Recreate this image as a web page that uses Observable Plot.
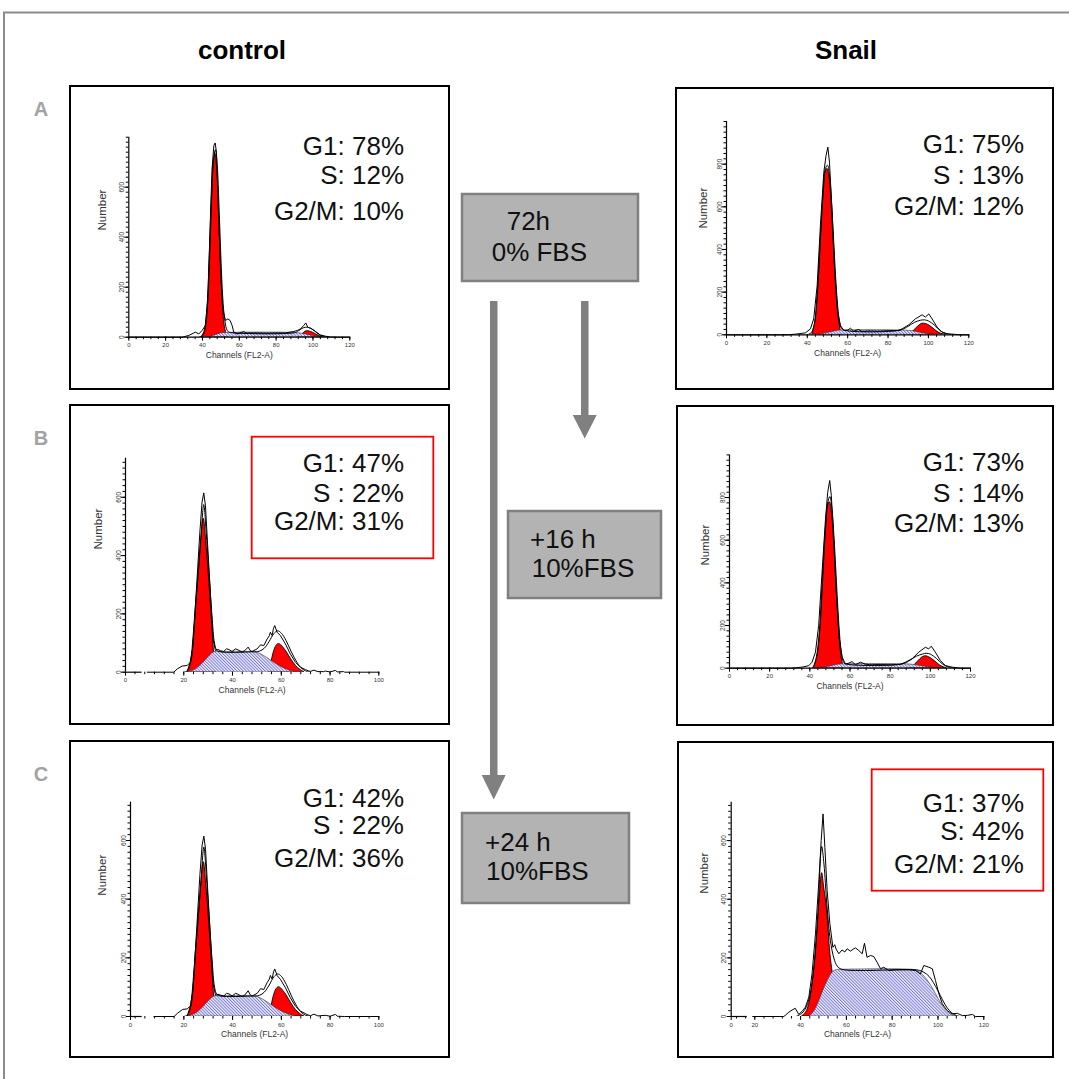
<!DOCTYPE html>
<html><head><meta charset="utf-8">
<script src="https://cdn.jsdelivr.net/npm/d3@7"></script>
<script src="https://cdn.jsdelivr.net/npm/@observablehq/plot@0.6"></script>
<style>
html,body{margin:0;padding:0;background:#fff;overflow:hidden;}
#page{position:relative;width:1069px;height:1079px;overflow:hidden;font-family:"Liberation Sans",Arial,sans-serif;}
#page svg.plotsvg{position:absolute;overflow:visible;}
</style></head><body><div id="page"></div>
<script>
// ---------------- DATA ----------------
const columns = ["control", "Snail"];
const rows = ["A", "B", "C"];
const treatments = [["72h", "0% FBS"], ["+16 h", "10%FBS"], ["+24 h", "10%FBS"]];
const xLabel = "Channels (FL2-A)";
const yLabel = "Number";

const ctrlA_stats = ["G1: 78%", "S: 12%", "G2/M: 10%"];
const snailA_stats = ["G1: 75%", "S : 13%", "G2/M: 12%"];
const ctrlB_stats = ["G1: 47%", "S : 22%", "G2/M: 31%"];
const snailB_stats = ["G1: 73%", "S : 14%", "G2/M: 13%"];
const ctrlC_stats = ["G1: 42%", "S : 22%", "G2/M: 36%"];
const snailC_stats = ["G1: 37%", "S: 42%", "G2/M: 21%"];

const yTicks800 = [0, 200, 400, 600];
const yTicks1000 = [0, 200, 400, 600, 800];
const xTicks120 = [0, 20, 40, 60, 80, 100, 120];
const xTicks100 = [20, 40, 60, 80, 100];
const xTicks120b = [20, 40, 60, 80, 100, 120];

// [channel, count]
const ctrlA_raw = [[0,0],[29,0],[32.6,7],[35.3,17],[36.2,20],[38,13],[39.8,27],[41.6,47],[42.9,153],[44.3,473],[45.2,673],[46.2,767],[46.9,777],[47.6,740],[48.5,540],[49.8,273],[51,113],[52.5,67],[53.8,73],[55,67],[56.1,47],[57,20],[58.8,13],[60,16],[62.4,23],[63.5,18],[64.3,17],[70,17],[75,16],[80,17],[85,17],[89.6,23],[91.5,27],[93.2,33],[95,47],[96.1,57],[97.2,40],[98.6,36],[100,30],[101.4,23],[104,9],[106.8,4],[109.5,1],[113,0],[120,0]];
const ctrlA_fit = [[38,0],[40,5],[41,20],[42,60],[43,155],[44,340],[45,555],[46,705],[47,750],[48,690],[49,520],[50,320],[51,160],[52,75],[53,35],[54,22],[56,18],[90,18],[92,25],[94,35],[96,40],[98,38],[100,30],[102,18],[104,8],[106,3],[108,0]];
const ctrlA_g1 = [[39.5,0],[41,20],[42,60],[43,150],[44,330],[45,540],[46,690],[47,734],[48,670],[49,500],[50,300],[51,140],[52,50],[53,15],[54,0]];
const ctrlA_s = [[44,0],[47,8],[50,15],[53,17],[90,17],[94,14],[98,8],[102,2],[104,0]];
const ctrlA_g2 = [[92,0],[94,10],[96,22],[97,24],[99,21],[101,14],[103,6],[105,1],[106,0]];

const snailA_raw = [[0,0],[30,0],[34.2,3],[39.1,9],[41.6,28],[43.2,75],[44.9,231],[46.5,512],[48.2,762],[49.3,840],[50.2,880],[51,809],[52.3,575],[53.6,294],[55.1,106],[56.4,44],[58.1,20],[60,22],[61.4,31],[63,16],[65.2,25],[67.2,16],[70,18],[75,17],[80,19],[85,20],[87,28],[90.3,47],[93.6,75],[96.9,94],[98.5,83],[100.2,98],[101.8,75],[104.3,36],[106.8,12],[109.2,5],[113.4,2],[116,0],[120,0]];
const snailA_fit = [[40,0],[42,10],[43.5,50],[45,190],[46,350],[47,530],[48,680],[49,780],[50,795],[51,750],[52,625],[53,455],[54,280],[55,140],[56,60],[57,30],[59,20],[86,22],[90,40],[93,58],[96,68],[98,70],[100,65],[103,45],[106,18],[109,5],[112,0]];
const snailA_g1 = [[42.5,0],[44,60],[45,170],[46,330],[47,510],[48,660],[49,760],[50,778],[51,740],[52,620],[53,450],[54,270],[55,130],[56,50],[57,10],[58,0]];
const snailA_s = [[46,0],[50,8],[54,17],[57,20],[88,20],[92,17],[96,10],[100,3],[103,0]];
const snailA_g2 = [[90,0],[92,12],[94,30],[96,47],[97,52],[99,50],[101,40],[103,25],[105,11],[107,3],[109,0]];

const ctrlB_raw = [[5,0],[15.9,0],[17.3,11],[19.3,21],[21.4,23],[22.7,34],[23.8,91],[25.2,286],[26.6,480],[27.5,583],[28.2,615],[28.9,571],[29.8,434],[30.9,274],[32,114],[33,74],[34,78],[35,74],[36.4,71],[37.5,80],[38.5,78],[39.8,71],[41.2,80],[41.9,78],[43.9,69],[45,74],[46.4,86],[47.2,75],[48,71],[50.1,80],[51.5,94],[52.8,91],[54.2,114],[55.1,125],[55.5,137],[56.2,126],[56.8,150],[57.3,160],[58.3,137],[59.6,126],[61.7,97],[63.7,63],[65.8,34],[67.9,17],[69.9,9],[71,5],[72,3],[73.4,7],[75,2],[77.4,2],[78,4],[80,1],[82.2,6],[83,1],[85.6,2],[86,0],[100,0]];
const ctrlB_fit = [[20,0],[21.5,5],[23,40],[24,125],[25,240],[26,345],[27,455],[28.2,575],[29.2,480],[30.2,360],[31.6,190],[32.6,100],[33.5,76],[35,70],[48,70],[51,72],[53,82],[55,105],[57,133],[58.5,142],[60,134],[62,108],[64,72],[66,40],[68,16],[70,4],[72,0]];
const ctrlB_g1 = [[21.5,0],[23,40],[24,120],[25,230],[26,330],[27,440],[28.2,526],[29.2,450],[30.2,343],[31.6,171],[32.5,60],[33.2,0]];
const ctrlB_s = [[22,0],[25,10],[28,32],[30.5,55],[32.5,68],[35,69],[48,69],[51,64],[54,50],[57,33],[60,18],[63,7],[66,0]];
const ctrlB_g2 = [[55,0],[56,35],[57,70],[58,90],[59,97],[60,92],[62,72],[64,45],[66,22],[68,7],[69.5,0]];

const snailB_raw = [[0,0],[31,0],[36.2,5],[39.5,12],[41.1,28],[42.8,75],[44.4,200],[46.1,450],[47.8,700],[48.9,825],[49.9,880],[50.7,809],[51.9,606],[53.2,356],[54.7,137],[56.1,52],[57.7,20],[59,22],[61,31],[62.7,16],[65.2,28],[67.7,19],[70,16],[75,17],[80,16],[85,18],[87.6,28],[90.9,44],[94.2,75],[97.5,98],[99.2,91],[100.5,103],[102.5,75],[105,36],[107.5,12],[110.8,5],[115,0],[120,0]];
const snailB_fit = [[41,0],[42,12],[43.5,55],[45,185],[46,345],[47,525],[48,675],[49,780],[50,805],[51,750],[52,620],[53,450],[54,275],[55,135],[56,55],[57,25],[59,18],[86,20],[90,38],[93,56],[96,66],[98,70],[100,66],[103,46],[106,20],[109,5],[112,0]];
const snailB_g1 = [[42,0],[43.5,50],[45,170],[46,330],[47,510],[48,660],[49,760],[50,778],[51,730],[52,600],[53,430],[54,260],[55,120],[56,40],[57,0]];
const snailB_s = [[46,0],[50,8],[54,16],[57,18],[88,18],[92,15],[96,9],[100,3],[103,0]];
const snailB_g2 = [[90,0],[92,13],[94,32],[96,50],[97.5,56],[99,53],[101,42],[103,27],[105,12],[107,3],[108,0]];

const ctrlC_raw = [[7.7,0],[16,0],[17.5,12],[19.5,24],[21.4,26],[22.7,36],[23.8,95],[25.2,290],[26.6,485],[27.5,585],[28.2,615],[28.9,570],[29.8,430],[30.9,270],[32,112],[33,72],[34,76],[35,73],[36.4,70],[37.5,79],[38.5,77],[39.8,70],[41.2,79],[41.9,77],[43.9,68],[45,73],[46.4,88],[47.2,74],[48,70],[50.1,79],[51.5,95],[52.8,92],[54.2,116],[55.1,128],[55.5,140],[56.2,128],[56.8,152],[57.3,162],[58.3,139],[59.6,127],[61.7,98],[63.7,64],[65.8,35],[67.9,18],[69.9,10],[71,5],[72,3],[73.4,8],[75,2],[78,4],[80,1],[82.2,7],[83,1],[86,0],[100,0]];
const ctrlC_fit = [[20,0],[21.5,5],[23,40],[24,125],[25,240],[26,345],[27,455],[28.2,578],[29.2,482],[30.2,360],[31.6,190],[32.6,100],[33.5,76],[35,70],[48,70],[51,72],[53,83],[55,107],[57,136],[58.5,145],[60,137],[62,110],[64,73],[66,40],[68,16],[70,4],[72,0]];
const ctrlC_g1 = [[21.5,0],[23,40],[24,120],[25,230],[26,330],[27,440],[28.2,526],[29.2,450],[30.2,343],[31.6,171],[32.5,60],[33.2,0]];
const ctrlC_s = [[22,0],[25,10],[28,32],[30.5,55],[32.5,68],[35,69],[48,69],[51,64],[54,50],[57,33],[60,18],[63,7],[66,0]];
const ctrlC_g2 = [[55,0],[56,36],[57,72],[58,93],[59,100],[60,95],[62,74],[64,46],[66,22],[68,7],[69.5,0]];

const snailC_raw = [[19.1,0],[32.7,0],[34.9,15],[36.3,22],[37.7,28],[39.2,7],[40.7,18],[42.1,32],[43.6,66],[45,145],[46.5,282],[47.9,452],[49,600],[49.8,691],[50.6,577],[51.6,430],[52.8,316],[54.1,236],[54.9,245],[55.5,230],[56.7,214],[58.1,227],[59.3,220],[60.3,231],[61.8,223],[63,230],[64,234],[65.4,225],[66.9,214],[67.9,250],[69,202],[70.5,208],[71.9,205],[73.4,185],[74.9,163],[76.3,168],[78.5,157],[81.4,159],[84.3,159],[87.3,159],[90.2,157],[92.3,145],[93.8,174],[96,168],[97.5,163],[98.9,123],[100.4,77],[101.9,43],[104,20],[106.2,9],[108.4,11],[110.6,3],[113,4],[115,7],[116.4,0],[120,0]];
const snailC_fit = [[38,0],[40,8],[42,25],[44,70],[46,180],[47.5,340],[49.2,580],[50.2,520],[51.5,380],[53,260],[54.5,200],[56,172],[58,161],[89,160],[92,157],[95,145],[97,128],[99,102],[101,72],[103,42],[105,20],[107,7],[109,1],[110,0]];
const snailC_g1 = [[40.7,0],[42.5,15],[44,50],[45.5,130],[47,260],[48.3,400],[49.4,489],[50.3,440],[51.6,361],[53,214],[54,150],[55.5,70],[57,20],[58.5,0]];
const snailC_s = [[44,0],[46,18],[48,50],[50,90],[52,125],[54,150],[55.5,158],[57,159],[89,159],[91,155],[93,145],[95,128],[97,105],[99,78],[101,50],[103,26],[105,10],[107,2],[108,0]];

// ---------------- LAYOUT ----------------
const FONT = "'Liberation Sans', Arial, sans-serif";
const panels = [
  {box:[70,86,449,389], px:[128.3,349.3], py:[336.7,136.7], xDom:[0,120], yDom:[0,800], yTicks:yTicks800, xTicks:xTicks120, yMinor:20, segs:[[0,120]],
   raw:ctrlA_raw, fit:ctrlA_fit, g1:ctrlA_g1, s:ctrlA_s, g2:ctrlA_g2, numY:427, numDx:-26, stats:ctrlA_stats, sx:404, sy:[155,183.5,220]},
  {box:[676,88,1053,389], px:[726,968.3], py:[334.3,121], xDom:[0,120], yDom:[0,1000], yTicks:yTicks1000, xTicks:xTicks120, yMinor:25, segs:[[0,120]],
   raw:snailA_raw, fit:snailA_fit, g1:snailA_g1, s:snailA_s, g2:snailA_g2, numY:498, numDx:-23, stats:snailA_stats, sx:1024, sy:[153,184,215]},
  {box:[70,405,449,724], px:[125,378.3], py:[671.7,457.7], xDom:[-3.9,100], yDom:[0,734], yTicks:yTicks800, xTicks:xTicks100, yMinor:20, segs:[[-3.9,2.9]],
   raw:ctrlB_raw, fit:ctrlB_fit, g1:ctrlB_g1, s:ctrlB_s, g2:ctrlB_g2, numY:421, numDx:-27, stats:ctrlB_stats, sx:404, sy:[471.5,501.5,530], redBox:[251.7,436.7,433.3,558.3]},
  {box:[677,406,1053,725], px:[729,970], py:[667.7,454.4], xDom:[0,120], yDom:[0,1000], yTicks:yTicks1000, xTicks:xTicks120, yMinor:25, segs:[[0,120]],
   raw:snailB_raw, fit:snailB_fit, g1:snailB_g1, s:snailB_s, g2:snailB_g2, numY:481, numDx:-24, stats:snailB_stats, sx:1024, sy:[470.5,501.5,531.5]},
  {box:[70,741,449,1057], px:[130,378.3], py:[1016,801.6], xDom:[-1.9,100], yDom:[0,731], yTicks:yTicks800, xTicks:xTicks100, yMinor:20, segs:[[-1.9,2.9]],
   raw:ctrlC_raw, fit:ctrlC_fit, g1:ctrlC_g1, s:ctrlC_s, g2:ctrlC_g2, numY:412, numDx:-28, stats:ctrlC_stats, sx:404, sy:[806.5,834,866.5]},
  {box:[678,742,1053,1057], px:[730.7,983.3], py:[1016,801.7], xDom:[9.7,120], yDom:[0,731], yTicks:yTicks800, xTicks:xTicks120b, yMinor:20, segs:[[9.7,16.7]],
   raw:snailC_raw, fit:snailC_fit, g1:snailC_g1, s:snailC_s, g2:null, numY:419, numDx:-27, stats:snailC_stats, sx:1024, sy:[811.5,840,872.5], redBox:[871.7,769.3,1043.3,890.7]}
];

const page = d3.select("#page");
const ov = page.append("svg").attr("width",1069).attr("height",1079)
  .style("position","absolute").style("left","0px").style("top","0px")
  .style("font-family", FONT);

const defs = ov.append("defs");
const pat = defs.append("pattern").attr("id","hatch").attr("patternUnits","userSpaceOnUse")
  .attr("width",2.2).attr("height",2.2).attr("patternTransform","rotate(-45)");
pat.append("rect").attr("width",2.2).attr("height",2.2).attr("fill","#f4f4ff");
pat.append("line").attr("x1",0.5).attr("y1",0).attr("x2",0.5).attr("y2",2.2).attr("stroke","#6a6ad8").attr("stroke-width",0.9);

// outer frame
ov.append("path").attr("d","M4,1079 V12.5 H1069").attr("fill","none").attr("stroke","#8c8c8c").attr("stroke-width",2);

// column headers
[[242, columns[0]], [846, columns[1]]].forEach(([x,t]) => {
  ov.append("text").attr("x",x).attr("y",59).attr("text-anchor","middle")
    .attr("font-size",26).attr("font-weight","bold").attr("fill","#000").text(t);
});
// row labels
[[116, rows[0]], [445, rows[1]], [781, rows[2]]].forEach(([y,t]) => {
  ov.append("text").attr("x",41).attr("y",y).attr("text-anchor","middle")
    .attr("font-size",20).attr("font-weight","bold").attr("fill","#a3a3a3").text(t);
});

// panel frames
panels.forEach(p => {
  const [l,t,r,b] = p.box;
  ov.append("rect").attr("x",l).attr("y",t).attr("width",r-l).attr("height",b-t)
    .attr("fill","none").attr("stroke","#000").attr("stroke-width",2);
  if (p.redBox) {
    const [a,bb,c,d] = p.redBox;
    ov.append("rect").attr("x",a).attr("y",bb).attr("width",c-a).attr("height",d-bb)
      .attr("fill","none").attr("stroke","#ff0000").attr("stroke-width",1.8);
  }
  p.stats.forEach((s,i) => {
    ov.append("text").attr("x",p.sx).attr("y",p.sy[i]).attr("text-anchor","end")
      .attr("font-size",26).attr("fill","#111").text(s);
  });
});

// treatment boxes
const tBoxes = [
  {r:[462,194,638,281], t:[[506.7,230],[491.7,261]]},
  {r:[508,511,661,598], t:[[530,548],[531.7,577]]},
  {r:[462,813,629,903], t:[[485,851],[486,880]]}
];
tBoxes.forEach((b,i) => {
  const [l,t,r,bt] = b.r;
  ov.append("rect").attr("x",l).attr("y",t).attr("width",r-l).attr("height",bt-t)
    .attr("fill","#b3b3b3").attr("stroke","#808080").attr("stroke-width",2.5);
  treatments[i].forEach((s,j) => {
    ov.append("text").attr("x",b.t[j][0]).attr("y",b.t[j][1]).attr("font-size",26).attr("fill","#111").text(s);
  });
});

// arrows
ov.append("rect").attr("x",490).attr("y",301).attr("width",7.5).attr("height",476).attr("fill","#808080");
ov.append("path").attr("d","M481.7,775 L505.7,775 L493.7,799.5 Z").attr("fill","#808080");
ov.append("rect").attr("x",581).attr("y",301).attr("width",7.5).attr("height",116).attr("fill","#808080");
ov.append("path").attr("d","M572.7,415 L596.7,415 L584.7,438.5 Z").attr("fill","#808080");

// ---------------- PLOTS ----------------
const X = d => d[0], Y = d => d[1];
panels.forEach(p => {
  const svgL = p.box[0]+3, svgT = p.box[1]+3;
  const W = p.box[2]-p.box[0]-6, H = p.box[3]-p.box[1]-6;
  const mL = p.px[0]-svgL, mR = svgL+W-p.px[1], mT = p.py[1]-svgT, mB = svgT+H-p.py[0];
  const yMinor = d3.range(0, p.yDom[1]+0.01, p.yMinor);
  const xMinor = d3.range(Math.ceil(p.xDom[0]/4)*4, p.xDom[1]+0.01, 4);
  const xMajor = p.xDom[0] === 0 ? p.xTicks : [p.xDom[0], ...p.xTicks];
  const marks = [
    Plot.areaY(p.g1, {x:X, y:Y, fill:"#ff0000", stroke:"#000", strokeWidth:0.9, curve:"catmull-rom", clip:true}),
  ];
  if (p.g2) marks.push(Plot.areaY(p.g2, {x:X, y:Y, fill:"#ff0000", stroke:"#000", strokeWidth:0.9, curve:"catmull-rom", clip:true}));
  marks.push(
    Plot.areaY(p.s, {x:X, y:Y, fill:"url(#hatch)", stroke:"#333", strokeWidth:0.6, curve:"catmull-rom", clip:true}),
    Plot.line(p.raw, {x:X, y:Y, stroke:"#000", strokeWidth:1}),
    Plot.line(p.fit, {x:X, y:Y, stroke:"#000", strokeWidth:1, curve:"catmull-rom", clip:true}),
    Plot.ruleX([p.xDom[0]], {y1:0, y2:p.yDom[1], stroke:"#000", strokeWidth:1.2}),
    Plot.ruleY(p.segs, {x1:X, x2:Y, y:0, stroke:"#000", strokeWidth:1.2}),
    Plot.axisY({ticks:yMinor, tickSize:2.5, tickFormat:() => "", label:null}),
    Plot.axisY({ticks:p.yTicks, tickSize:4, tickPadding:1, tickRotate:-90, label:null, fontSize:6.5, fill:"#333"}),
    Plot.axisX({ticks:xMinor, tickSize:2.5, tickFormat:() => "", label:null}),
    Plot.axisX({ticks:xMajor, tickSize:4, tickPadding:2, tickFormat:d => d === p.xDom[0] ? "0" : String(d), label:null, fontSize:6, fill:"#333"}),
    Plot.text([xLabel], {frameAnchor:"bottom", dy:18, lineAnchor:"middle", fontSize:8.5, fill:"#333"}),
    Plot.text([yLabel], {frameAnchor:"left", y:() => p.numY, dx:p.numDx, rotate:-90, fontSize:11.5, fill:"#333"})
  );
  const chart = Plot.plot({
    width:W, height:H, marginLeft:mL, marginRight:mR, marginTop:mT, marginBottom:mB,
    x:{domain:p.xDom}, y:{domain:p.yDom},
    style:{background:"transparent", fontFamily:FONT, overflow:"visible"},
    marks
  });
  chart.classList.add("plotsvg");
  chart.style.left = svgL + "px";
  chart.style.top = svgT + "px";
  chart.style.position = "absolute";
  chart.style.maxWidth = "none";
  page.node().appendChild(chart);
});
</script></body></html>
